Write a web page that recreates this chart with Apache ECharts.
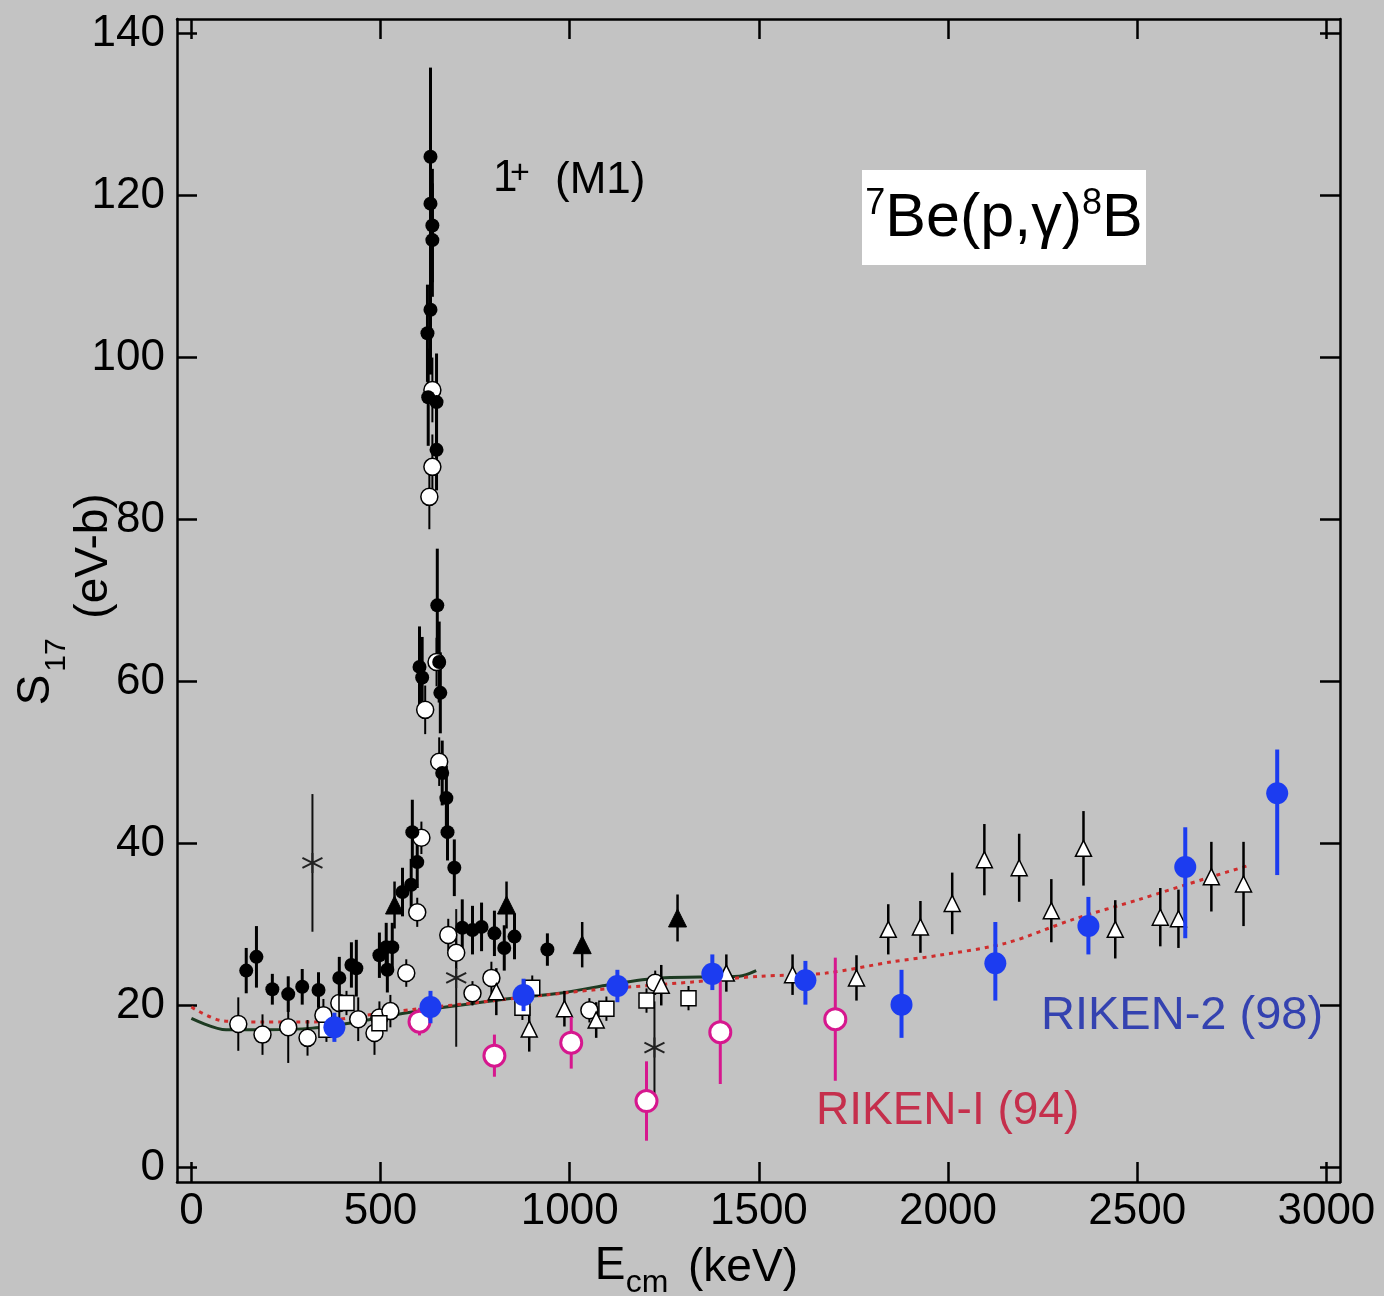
<!DOCTYPE html>
<html><head><meta charset="utf-8">
<script src="https://cdn.jsdelivr.net/npm/echarts@6/dist/echarts.min.js"></script>
<style>html,body{margin:0;padding:0;background:#c3c3c3}#c{width:1384px;height:1296px}</style>
</head><body><div id="c"></div>
<script>
// ---- tick values ----
const xTicks = [0, 500, 1000, 1500, 2000, 2500, 3000];
const yTicks = [0, 20, 40, 60, 80, 100, 120, 140];

// ---- data: [Ecm (keV), S17 (eV-b), error] ----
const filledCircles = [
  [145,24.3,2.8],[172,26.0,3.8],[214,22.0,1.9],[256,21.4,2.2],[293,22.3,2.2],[336,21.9,2.2],
  [391,23.4,2.6],[423,25.0,2.8],[436,24.6,3.5],[497,26.2,2.8],[518,24.4,2.8],[515,27.2,3.0],
  [531,27.2,3.0],[558,34.0,3.0],[581,34.9,3.2],[597,37.7,3.2],[584,41.4,4.0],[603,61.8,5.0],
  [610,60.5,5.0],[624,103.0,6.0],[626,95.1,6.0],[632,105.9,8.0],[632,119.0,8.0],[632,124.8,11.0],
  [637,116.3,7.0],[637,114.5,7.0],[648,94.5,6.0],[648,88.6,5.0],[650,69.4,7.0],[655,62.4,5.0],
  [658,58.6,5.0],[663,48.7,4.0],[674,45.6,4.0],[677,41.4,3.5],[695,37.0,3.5],[716,29.6,3.5],
  [743,29.3,3.0],[767,29.7,3.0],[801,28.9,2.8],[827,27.1,2.8],[854,28.5,2.8],[941,26.9,2.0]
];
const openCircles = [
  [124,17.7,3.3],[188,16.4,2.5],[256,17.3,4.4],[307,16.0,2.2],[349,18.8,2.0],[391,20.3,2.5],
  [441,18.3,2.7],[484,16.6,2.7],[497,18.5,2.0],[526,19.3,2.0],[568,24.0,1.7],[597,31.5,1.8],
  [608,40.7,2.0],[618,56.5,3.0],[648,62.4,3.0],[655,50.1,3.0],[629,82.8,4.0],[637,86.5,4.0],
  [637,96.0,4.0],[679,28.7,2.0],[700,26.5,2.0],[743,21.5,1.5],[793,23.4,2.0],[1052,19.4,1.5],
  [1226,22.8,1.5]
];
const openSquares = [
  [357,17.0,1.5],[410,20.3,1.5],[497,17.8,1.5],[875,19.7,1.5],[901,22.2,1.5],[1097,19.6,1.5],
  [1203,20.6,1.5],[1314,20.9,1.5]
];
const openTriangles = [
  [806,21.7,2.9],[893,17.1,2.8],[986,19.6,2.2],[1070,18.2,2.2],[1242,22.5,2.5],[1414,24.0,2.3],
  [1589,23.8,2.5],[1758,23.4,2.8],[1842,29.4,3.1],[1927,29.7,3.2],[2011,32.6,3.8],[2096,38.0,4.4],
  [2188,37.0,4.2],[2273,31.7,3.9],[2358,39.4,4.6],[2442,29.4,3.6],[2561,30.9,3.6],[2609,30.7,3.6],
  [2696,35.9,4.3],[2781,35.0,5.2]
];
const filledTriangles = [[537,32.4,2.9],[833,32.4,2.9],[1033,27.5,2.8],[1285,30.8,2.9]];
const asterisks = [[320,37.6,8.5],[700,23.4,8.5],[1224,14.8,5.7]];
// RIKEN-2: [Ecm, S17, error below, error above]
const riken2 = [
  [378,17.3,1.8,1.8],[632,19.8,2.0,2.0],[878,21.3,2.0,2.0],[1126,22.4,2.0,2.0],[1377,23.9,2.0,2.4],
  [1623,23.1,3.0,2.4],[1877,20.1,4.1,4.3],[2125,25.2,4.6,5.1],[2371,29.8,3.5,3.6],
  [2627,37.1,8.8,4.9],[2870,46.2,10.1,5.4]
];
const riken1 = [[603,18.0,1.7],[801,13.8,2.6],[1004,15.4,3.2],[1203,8.2,4.9],[1398,16.7,6.4],[1702,18.3,7.6]];

// ---- theory curves: [Ecm, S17] ----
const solidCurve = [
  [0,18.4],[92,17.0],[200,17.0],[320,17.2],[430,17.9],[532,18.8],[673,19.8],[849,20.9],
  [973,21.5],[1097,22.5],[1237,23.4],[1343,23.5],[1448,23.6],[1493,24.3]
];
const dottedCurve = [
  [0,19.8],[82,18.1],[188,17.96],[320,17.96],[462,18.8],[585,19.5],[761,20.4],[938,21.3],
  [1061,21.9],[1325,22.9],[1501,23.6],[1678,24.0],[1853,25.4],[1977,26.2],[2154,27.7],
  [2329,30.6],[2506,33.1],[2683,35.7],[2796,37.3]
];

const FONT = '"Liberation Sans", Arial, Helvetica, sans-serif';
const chart = echarts.init(document.getElementById('c'), null, {renderer: 'canvas'});

function errBars(data, color, width, z) {
  return {
    type: 'custom', z: z, silent: true, clip: true,
    data: data.map(d => [d[0], d[1] - d[2], d[1] + (d.length > 3 ? d[3] : d[2])]),
    encode: {x: 0, y: [1, 2]},
    renderItem: function (params, api) {
      const p1 = api.coord([api.value(0), api.value(1)]);
      const p2 = api.coord([api.value(0), api.value(2)]);
      return {type: 'line', shape: {x1: p1[0], y1: p1[1], x2: p2[0], y2: p2[1]},
        style: {stroke: color, lineWidth: width}};
    }
  };
}
function pts(data, symbol, size, fill, stroke, bw, z) {
  return {
    type: 'scatter', z: z, silent: true, symbol: symbol, symbolSize: size,
    data: data.map(d => [d[0], d[1]]),
    itemStyle: {color: fill, borderColor: stroke, borderWidth: bw, opacity: 1}
  };
}

const axisCommon = {
  type: 'value', min: -38, max: 3036,
  axisLine: {show: true, onZero: false, lineStyle: {color: '#000', width: 2.5}},
  axisTick: {show: true, inside: true, length: 20, customValues: xTicks, lineStyle: {color: '#000', width: 2.5}},
  splitLine: {show: false}
};
const yCommon = {
  type: 'value', min: -1.8, max: 141.8,
  axisLine: {show: true, onZero: false, lineStyle: {color: '#000', width: 2.5}},
  axisTick: {show: true, inside: true, length: 20, customValues: yTicks, lineStyle: {color: '#000', width: 2.5}},
  splitLine: {show: false}
};

const asteriskPath = 'path://M10,0L10,20M1.34,5L18.66,15M1.34,15L18.66,5';

chart.setOption({
  backgroundColor: '#c3c3c3',
  animation: false,
  grid: {left: 177, right: 44, top: 19, bottom: 114, containLabel: false},
  xAxis: [
    Object.assign({}, axisCommon, {position: 'bottom',
      axisLabel: {show: true, customValues: xTicks, formatter: v => String(v), color: '#000', fontSize: 44, fontFamily: FONT, margin: 8}}),
    Object.assign({}, axisCommon, {position: 'top', axisLabel: {show: false}})
  ],
  yAxis: [
    Object.assign({}, yCommon, {position: 'left',
      axisLabel: {show: true, customValues: yTicks, formatter: v => String(v), color: '#000', fontSize: 44, fontFamily: FONT, margin: 12}}),
    Object.assign({}, yCommon, {position: 'right', axisLabel: {show: false}})
  ],
  series: [
    {type: 'line', z: 2, silent: true, data: solidCurve, showSymbol: false, symbol: 'none', smooth: 0.3,
      lineStyle: {color: '#1d3b22', width: 3}},
    {type: 'line', z: 2, silent: true, data: dottedCurve, showSymbol: false, symbol: 'none', smooth: 0.3,
      lineStyle: {color: '#cf2d2d', width: 3, type: [4, 5]}},
    errBars(asterisks, '#111', 2, 3),
    errBars(openCircles, '#000', 2, 3),
    errBars(openSquares, '#000', 2, 3),
    errBars(openTriangles, '#000', 2.5, 3),
    errBars(filledTriangles, '#000', 2.5, 3),
    errBars(filledCircles, '#000', 3, 3),
    pts(asterisks, asteriskPath, 20, 'none', '#222', 2, 4),
    pts(openCircles, 'circle', 17, '#fff', '#000', 1.5, 4),
    pts(openSquares, 'rect', 15, '#fff', '#000', 1.5, 4),
    pts(openTriangles, 'triangle', 16, '#fff', '#000', 1.5, 4),
    pts(filledTriangles, 'triangle', 18, '#000', '#000', 1, 5),
    pts(filledCircles, 'circle', 14, '#000', '#000', 0, 5),
    errBars(riken1, '#d6178e', 3, 6),
    pts(riken1, 'circle', 21, '#fff', '#d6178e', 3, 6),
    errBars(riken2, '#1c3cf0', 4, 7),
    pts(riken2, 'circle', 22, '#1c3cf0', '#1c3cf0', 0, 7)
  ],
  graphic: [
    // reaction label box
    {type: 'rect', left: 862, top: 170, shape: {width: 284, height: 95}, style: {fill: '#fff'}, z: 20},
    {type: 'text', x: 1004, y: 218, z: 21, style: {
      text: '{s|7}{m|Be(p,γ)}{s|8}{m|B}', align: 'center', verticalAlign: 'middle',
      rich: {
        s: {fontSize: 36, fontFamily: FONT, fill: '#000', lineHeight: 64, verticalAlign: 'top', padding: [0, 0, 22, 0]},
        m: {fontSize: 61, fontFamily: FONT, fill: '#000', lineHeight: 64, verticalAlign: 'bottom'}
      }}},
    // 1+ (M1)
    {type: 'text', x: 493, y: 179, z: 21, style: {text: '1', fontSize: 44, fontFamily: FONT, fill: '#000', align: 'left', verticalAlign: 'middle'}},
    {type: 'text', x: 510, y: 174, z: 21, style: {text: '+', fontSize: 34, fontFamily: FONT, fill: '#000', align: 'left', verticalAlign: 'middle'}},
    {type: 'text', x: 555, y: 181, z: 21, style: {text: '(M1)', fontSize: 44, fontFamily: FONT, fill: '#000', align: 'left', verticalAlign: 'middle'}},
    // RIKEN labels
    {type: 'text', x: 1041, y: 1016, z: 21, style: {text: 'RIKEN-2 (98)', fontSize: 47, fontFamily: FONT, fill: '#3442b0', align: 'left', verticalAlign: 'middle'}},
    {type: 'text', x: 816, y: 1111, z: 21, style: {text: 'RIKEN-I (94)', fontSize: 46, fontFamily: FONT, fill: '#c52f4c', align: 'left', verticalAlign: 'middle'}},
    // x axis title
    {type: 'text', x: 610, y: 1266, z: 21, style: {text: 'E', fontSize: 46, fontFamily: FONT, fill: '#000', align: 'center', verticalAlign: 'middle'}},
    {type: 'text', x: 647, y: 1283, z: 21, style: {text: 'cm', fontSize: 32, fontFamily: FONT, fill: '#000', align: 'center', verticalAlign: 'middle'}},
    {type: 'text', x: 743, y: 1268, z: 21, style: {text: '(keV)', fontSize: 46, fontFamily: FONT, fill: '#000', align: 'center', verticalAlign: 'middle'}},
    // y axis title (rotated)
    {type: 'text', x: 36, y: 690, rotation: Math.PI / 2, z: 21, style: {text: 'S', fontSize: 46, fontFamily: FONT, fill: '#000', align: 'center', verticalAlign: 'middle'}},
    {type: 'text', x: 57, y: 655, rotation: Math.PI / 2, z: 21, style: {text: '17', fontSize: 30, fontFamily: FONT, fill: '#000', align: 'center', verticalAlign: 'middle'}},
    {type: 'text', x: 94, y: 556, rotation: Math.PI / 2, z: 21, style: {text: '(eV-b)', fontSize: 46, fontFamily: FONT, fill: '#000', align: 'center', verticalAlign: 'middle'}}
  ]
});
</script>
</body></html>
